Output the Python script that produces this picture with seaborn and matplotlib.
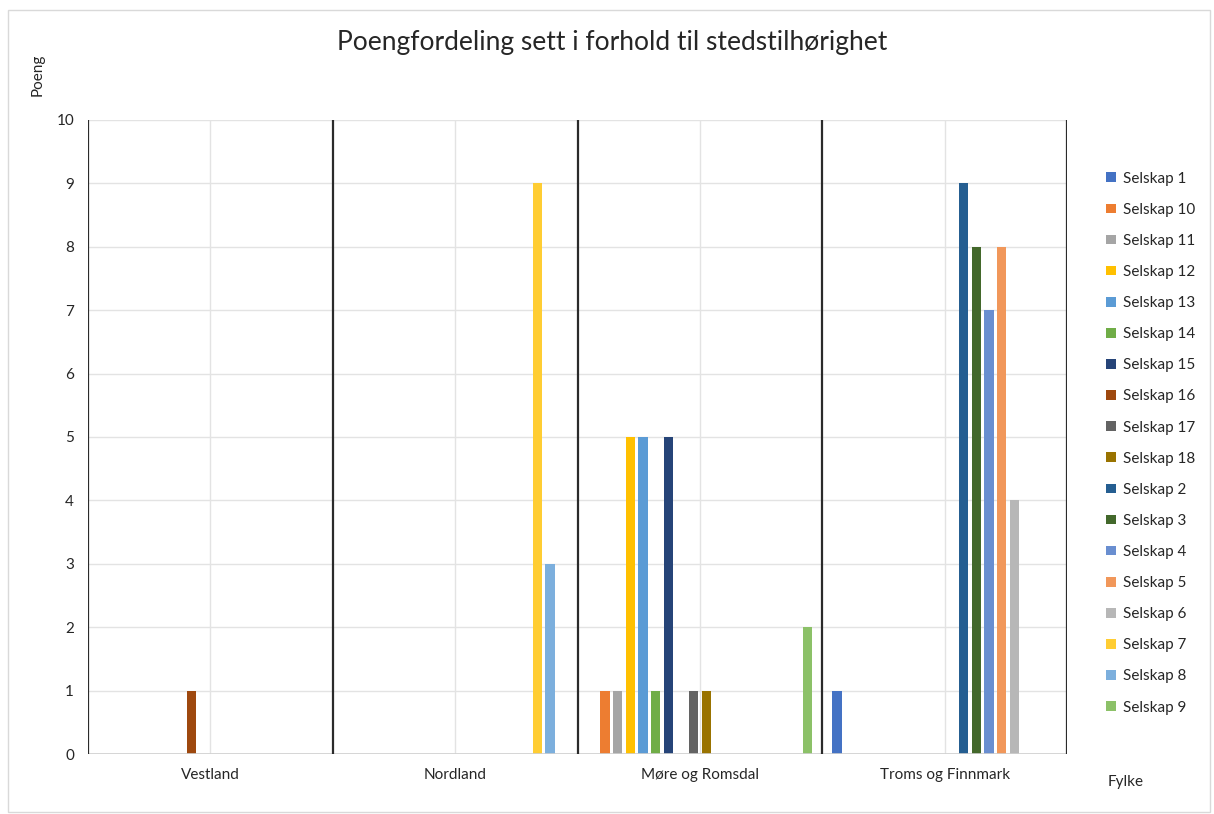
import matplotlib
matplotlib.use("Agg")
import matplotlib.pyplot as plt
import seaborn as sns
import pandas as pd
from matplotlib.patches import Rectangle

# Data
fylker = ["Vestland", "Nordland", "Møre og Romsdal", "Troms og Finnmark"]
selskaper = ["Selskap 1", "Selskap 10", "Selskap 11", "Selskap 12", "Selskap 13",
             "Selskap 14", "Selskap 15", "Selskap 16", "Selskap 17", "Selskap 18",
             "Selskap 2", "Selskap 3", "Selskap 4", "Selskap 5", "Selskap 6",
             "Selskap 7", "Selskap 8", "Selskap 9"]
vestland = [0, 0, 0, 0, 0, 0, 0, 1, 0, 0, 0, 0, 0, 0, 0, 0, 0, 0]
nordland = [0, 0, 0, 0, 0, 0, 0, 0, 0, 0, 0, 0, 0, 0, 0, 9, 3, 0]
more_romsdal = [0, 1, 1, 5, 5, 1, 5, 0, 1, 1, 0, 0, 0, 0, 0, 0, 0, 2]
troms_finnmark = [1, 0, 0, 0, 0, 0, 0, 0, 0, 0, 9, 8, 7, 8, 4, 0, 0, 0]
farger = ["#4472C4", "#ED7D31", "#A5A5A5", "#FFC000", "#5B9BD5", "#70AD47",
          "#264478", "#9E480E", "#636363", "#997300", "#255E91", "#43682B",
          "#698ED0", "#F1975A", "#B7B7B7", "#FFCD33", "#7CAFDD", "#8CC168"]

rader = []
for fylke, verdier in zip(fylker, [vestland, nordland, more_romsdal, troms_finnmark]):
    for selskap, v in zip(selskaper, verdier):
        rader.append({"Fylke": fylke, "Selskap": selskap, "Poeng": v})
df = pd.DataFrame(rader)

sns.set_style("white")
plt.rcParams["font.family"] = ["Lato", "DejaVu Sans"]

fig = plt.figure(figsize=(12.14, 8.14), dpi=100)
ax = fig.add_axes([0.0725, 0.0737, 0.8065, 0.7789])

sns.barplot(data=df, x="Fylke", y="Poeng", hue="Selskap", order=fylker,
            hue_order=selskaper, palette=farger, saturation=1, width=0.93, gap=0.25,
            linewidth=0, errorbar=None, ax=ax)

ax.set_xlim(-0.5, 3.5)
ax.set_ylim(0, 10)
ax.set_yticks(range(0, 11))
ax.grid(True, color="#e3e3e3", linewidth=1)
ax.set_axisbelow(True)
for s in ax.spines.values():
    s.set_visible(False)
ax.axhline(0, color="#d0d0d0", linewidth=1.2, zorder=1)
for x in [-0.5, 0.5, 1.5, 2.5, 3.5]:
    ax.axvline(x, color="#2b2b2b", linewidth=1.6, zorder=3)
ax.tick_params(length=0, labelsize=11, pad=10)
ax.set_xlabel("")
ax.set_ylabel("")

ax.legend(loc="upper left", bbox_to_anchor=(0.900, 0.806),
          bbox_transform=fig.transFigure, frameon=False, fontsize=11,
          handlelength=0.6, handleheight=0.6, handletextpad=0.5,
          labelspacing=1.12)

fig.text(0.504, 0.948, "Poengfordeling sett i forhold til stedstilhørighet",
         ha="center", va="center", fontsize=19)
fig.text(0.031, 0.908, "Poeng", rotation=90, ha="center", va="center", fontsize=11)
fig.text(0.927, 0.039, "Fylke", ha="center", va="center", fontsize=11)

fig.patches.append(Rectangle((0.0066, 0.002), 0.99, 0.986, transform=fig.transFigure,
                             fill=False, edgecolor="#d9d9d9", linewidth=1))

fig.savefig("out.png", dpi=100)
